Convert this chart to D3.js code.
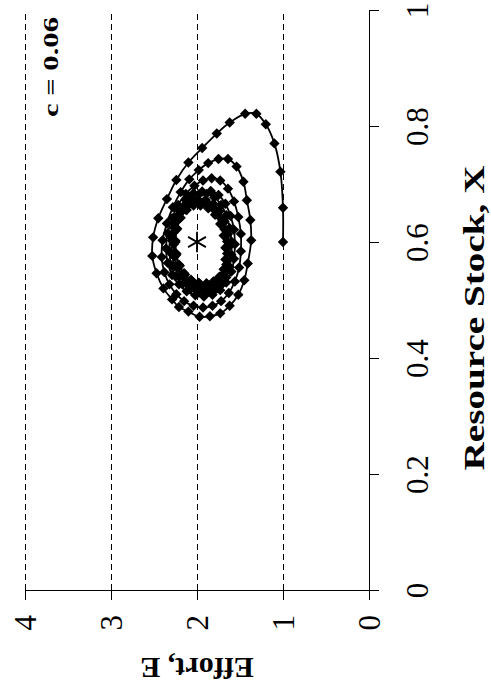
<!DOCTYPE html>
<meta charset="utf-8">
<style>
    body { margin: 0; background: #fff; }
    text { font-family: "Times New Roman", "Liberation Serif", Times, serif; fill: #000; }
    .axis path, .axis line { stroke: #000; stroke-width: 1px; shape-rendering: crispEdges; }
    .grid { stroke: #000; stroke-width: 1px; stroke-dasharray: 6,4; shape-rendering: crispEdges; }
    .traj { fill: none; stroke: #000; stroke-width: 1.8px; }
</style>
<body>
<script src="https://cdn.jsdelivr.net/npm/d3@7/dist/d3.min.js"></script>
<script>
    var width = 491
    var height = 694
    var serif = "'Times New Roman', 'Liberation Serif', Times, serif"

    // tick values for both axes
    var stockTicks = [0, 0.2, 0.4, 0.6, 0.8, 1]
    var effortTicks = [0, 1, 2, 3, 4]
    var gridEffort = [1, 2, 3, 4]

    // trajectory: [effort E, resource stock X]
    var trajectory = [
        [1.00,0.600],[1.00,0.659],[1.03,0.721],[1.10,0.770],[1.20,0.803],[1.31,0.821],[1.44,0.821],
        [1.62,0.806],[1.77,0.787],[1.94,0.762],[2.10,0.737],[2.24,0.707],[2.35,0.674],[2.45,0.641],
        [2.51,0.608],[2.52,0.576],[2.47,0.546],[2.39,0.520],[2.29,0.501],[2.21,0.488],[2.10,0.480],
        [1.97,0.471],[1.85,0.472],[1.73,0.477],[1.62,0.490],[1.52,0.509],[1.45,0.534],[1.41,0.563],
        [1.37,0.603],[1.38,0.638],[1.42,0.672],[1.46,0.704],[1.54,0.730],[1.64,0.743],[1.75,0.743],
        [1.87,0.736],
        // loop 2
        [1.98,0.724],[2.09,0.708],[2.19,0.686],[2.28,0.660],[2.35,0.632],[2.40,0.603],[2.41,0.574],
        [2.38,0.548],[2.32,0.527],[2.24,0.510],[2.15,0.498],[2.04,0.490],[1.93,0.487],[1.82,0.490],
        [1.72,0.498],[1.63,0.512],[1.56,0.532],[1.51,0.556],[1.49,0.584],[1.49,0.614],[1.52,0.643],
        [1.57,0.670],[1.64,0.692],[1.73,0.706],[1.83,0.710],[1.93,0.706],
        // loop 3
        [2.03,0.697],[2.13,0.683],[2.22,0.664],[2.29,0.641],[2.34,0.615],[2.36,0.589],[2.34,0.564],
        [2.29,0.543],[2.21,0.527],[2.12,0.515],[2.02,0.508],[1.92,0.506],[1.82,0.509],[1.73,0.517],
        [1.66,0.530],[1.60,0.549],[1.57,0.571],[1.56,0.596],[1.57,0.621],[1.61,0.645],[1.67,0.666],
        [1.75,0.681],[1.84,0.688],[1.94,0.687],
        // loop 4
        [2.04,0.684],[2.13,0.672],[2.21,0.655],[2.27,0.633],[2.31,0.609],[2.32,0.584],[2.30,0.560],
        [2.25,0.541],[2.17,0.527],[2.08,0.518],[1.99,0.513],[1.89,0.513],[1.80,0.517],[1.72,0.526],
        [1.66,0.539],[1.62,0.557],[1.60,0.578],[1.60,0.601],[1.62,0.624],[1.66,0.646],[1.72,0.664],
        [1.80,0.677],[1.89,0.683],[1.98,0.682],
        // loop 5
        [2.07,0.676],[2.15,0.663],[2.22,0.646],[2.27,0.625],[2.29,0.602],[2.29,0.579],[2.26,0.558],
        [2.20,0.541],[2.12,0.529],[2.03,0.521],[1.94,0.518],[1.85,0.520],[1.77,0.526],[1.70,0.537],
        [1.66,0.552],[1.63,0.571],[1.63,0.592],[1.64,0.614],[1.68,0.635],[1.74,0.653],[1.81,0.666],
        [1.90,0.673],[1.99,0.673],
        // loop 6
        [2.08,0.667],[2.16,0.655],[2.22,0.638],[2.26,0.618],[2.27,0.596],[2.26,0.575],[2.22,0.556],
        [2.16,0.541],[2.08,0.530],[1.99,0.524],[1.90,0.522],[1.82,0.525],[1.75,0.533],[1.69,0.545],
        [1.66,0.561],[1.65,0.580],[1.65,0.601],[1.68,0.622],[1.72,0.641],[1.79,0.656],[1.87,0.666],
        [1.96,0.669],[2.05,0.666],
        // loop 7
        [2.13,0.656],[2.20,0.641],[2.24,0.621],[2.25,0.600],[2.24,0.578],[2.20,0.559],[2.14,0.544],
        [2.06,0.533],[1.97,0.528],[1.88,0.527],[1.80,0.531],[1.73,0.540],[1.68,0.553],[1.66,0.570],
        [1.66,0.590],[1.68,0.611],[1.72,0.631],[1.78,0.648],[1.86,0.660],[1.95,0.665],[2.04,0.663],
        // loop 8
        [2.12,0.655],[2.19,0.642],[2.23,0.623],[2.25,0.602],[2.24,0.580],[2.21,0.561],[2.15,0.546],
        [2.07,0.535],[1.98,0.530],[1.89,0.529],[1.81,0.532],[1.74,0.540],[1.69,0.553],[1.67,0.570],
        [1.67,0.590],[1.69,0.611],[1.73,0.631],[1.79,0.647],[1.87,0.658],[1.96,0.663]
    ]
    var equilibrium = [2.0, 0.6]

    // the chart is turned on its side: stock X runs up the page, effort E runs right to left
    var xScale = d3.scaleLinear().domain([0, 1]).range([590, 10])
    var eScale = d3.scaleLinear().domain([0, 4]).range([369, 25])

    var svg = d3.select("body").append("svg")
        .attr("width", width)
        .attr("height", height)

    svg.selectAll("line.grid")
        .data(gridEffort)
      .enter().append("line")
        .attr("class", "grid")
        .attr("x1", function(d) { return eScale(d) })
        .attr("x2", function(d) { return eScale(d) })
        .attr("y1", xScale(0))
        .attr("y2", xScale(1))

    var stockAxis = svg.append("g")
        .attr("class", "axis")
        .attr("transform", "translate(" + eScale(0) + ",0)")
        .call(d3.axisRight(xScale).tickValues(stockTicks).tickSize(10).tickSizeOuter(0)
            .tickFormat(function(d) { return String(d) }))
    stockAxis.selectAll("text")
        .attr("x", null).attr("dy", null)
        .attr("transform", "translate(59,0) rotate(-90)")
        .attr("text-anchor", "middle")
        .style("font-size", "31px")
        .style("font-family", serif)

    var effortAxis = svg.append("g")
        .attr("class", "axis")
        .attr("transform", "translate(0," + xScale(0) + ")")
        .call(d3.axisBottom(eScale).tickValues(effortTicks).tickSize(10).tickSizeOuter(0)
            .tickFormat(function(d) { return String(d) }))
    effortAxis.selectAll("text")
        .attr("y", null).attr("dy", null)
        .attr("transform", "translate(10.5,25) rotate(-90)")
        .attr("text-anchor", "end")
        .style("font-size", "31px")
        .style("font-family", serif)

    var line = d3.line()
        .x(function(d) { return eScale(d[0]) })
        .y(function(d) { return xScale(d[1]) })
        .curve(d3.curveCatmullRom.alpha(0.5))

    svg.append("path")
        .datum(trajectory)
        .attr("class", "traj")
        .attr("d", line)

    var diamond = d3.symbol().type(d3.symbolSquare).size(54)
    svg.selectAll("path.pt")
        .data(trajectory)
      .enter().append("path")
        .attr("class", "pt")
        .attr("d", diamond)
        .attr("transform", function(d) {
            return "translate(" + eScale(d[0]) + "," + xScale(d[1]) + ") rotate(45)"
        })
        .attr("fill", "#000")

    svg.append("path")
        .attr("d", d3.symbol().type(d3.symbolAsterisk).size(300))
        .attr("transform", "translate(" + eScale(equilibrium[0]) + "," + xScale(equilibrium[1]) + ")")
        .attr("fill", "none")
        .attr("stroke", "#000")
        .attr("stroke-width", 1.8)

    svg.append("text")
        .attr("transform", "translate(484,318) rotate(-90)")
        .attr("text-anchor", "middle")
        .attr("textLength", 305)
        .attr("lengthAdjust", "spacingAndGlyphs")
        .style("font-size", "30px")
        .style("font-weight", "bold")
        .text("Resource Stock, X")

    svg.append("text")
        .attr("transform", "translate(197,658) rotate(180)")
        .attr("text-anchor", "middle")
        .style("font-size", "30px")
        .style("font-weight", "bold")
        .text("Effort, E")

    svg.append("text")
        .attr("transform", "translate(58,17) rotate(-90)")
        .attr("text-anchor", "end")
        .attr("textLength", 100)
        .attr("lengthAdjust", "spacingAndGlyphs")
        .style("font-size", "22px")
        .style("font-weight", "bold")
        .text("c = 0.06")
</script>
</body>
